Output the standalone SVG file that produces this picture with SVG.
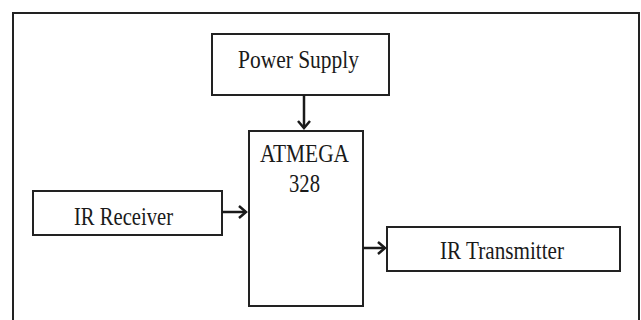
<svg xmlns="http://www.w3.org/2000/svg" width="641" height="320" viewBox="0 0 641 320">
<style>
.box{fill:#fff;stroke:#222;stroke-width:2}
.lbl{font-family:"Liberation Serif","Times New Roman",serif;font-size:26px;fill:#1a1a1a}
.con{stroke:#1a1a1a;stroke-width:2.5;fill:none}
</style>
<defs>
<marker id="ah" markerWidth="14" markerHeight="14" refX="10" refY="7" orient="auto" markerUnits="userSpaceOnUse">
<polyline points="3,1 10,7 3,13" fill="none" stroke="#1a1a1a" stroke-width="2.5"/>
</marker>
</defs>
<rect x="0" y="0" width="641" height="320" fill="#fff"/>
<path d="M13,330 V13 H639 V330" fill="none" stroke="#222" stroke-width="2"/>
<g id="power">
<rect class="box" x="212" y="34" width="177" height="61"/>
<text class="lbl" x="238" y="68" textLength="121" lengthAdjust="spacingAndGlyphs">Power Supply</text>
</g>
<g id="atmega">
<rect class="box" x="249" y="131" width="114" height="175"/>
<text class="lbl" x="260" y="162" textLength="89" lengthAdjust="spacingAndGlyphs">ATMEGA</text>
<text class="lbl" x="289" y="192" textLength="31" lengthAdjust="spacingAndGlyphs">328</text>
</g>
<g id="receiver">
<rect class="box" x="33" y="191" width="189" height="44"/>
<text class="lbl" x="74" y="225" textLength="99" lengthAdjust="spacingAndGlyphs">IR Receiver</text>
</g>
<g id="transmitter">
<rect class="box" x="387" y="227" width="233" height="44"/>
<text class="lbl" x="440" y="259" textLength="124" lengthAdjust="spacingAndGlyphs">IR Transmitter</text>
</g>
<g id="connectors">
<line class="con" x1="304" y1="95" x2="304" y2="128" marker-end="url(#ah)"/>
<line class="con" x1="222" y1="212" x2="246" y2="212" marker-end="url(#ah)"/>
<line class="con" x1="363" y1="248" x2="385" y2="248" marker-end="url(#ah)"/>
</g>
</svg>
